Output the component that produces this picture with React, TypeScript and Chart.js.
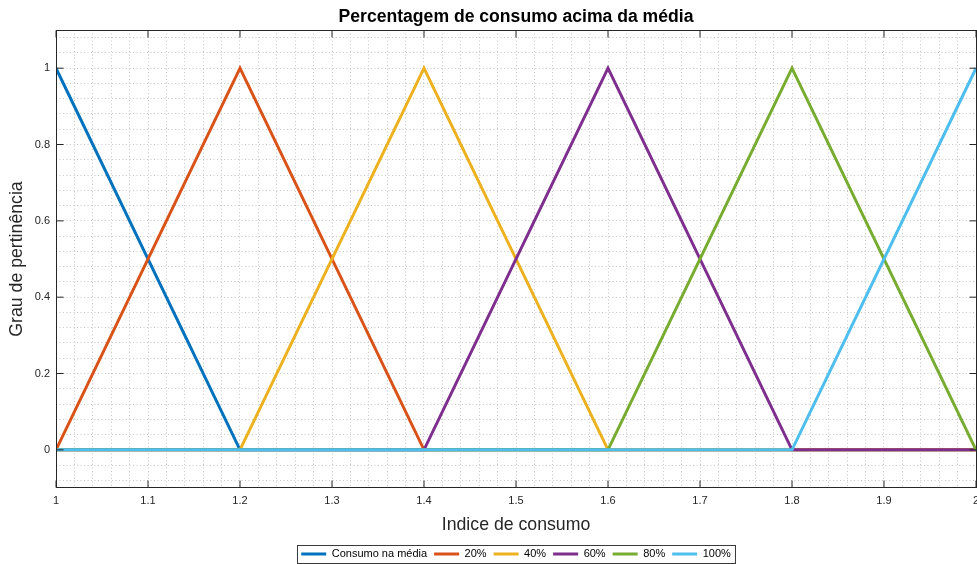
import { useEffect, useRef } from "react";
import { Chart, registerables } from "chart.js";

Chart.register(...registerables);

const chartTitle = "Percentagem de consumo acima da média";
const xAxisTitle = "Indice de consumo";
const yAxisTitle = "Grau de pertinência";

// x positions of the membership-function break points
const xPoints = [1, 1.2, 1.4, 1.6, 1.8, 2];

const seriesLabels = ["Consumo na média", "20%", "40%", "60%", "80%", "100%"];
const consumoNaMedia = [1, 0, 0, 0, 0, 0];
const pct20 = [0, 1, 0, 0, 0, 0];
const pct40 = [0, 0, 1, 0, 0, 0];
const pct60 = [0, 0, 0, 1, 0, 0];
const pct80 = [0, 0, 0, 0, 1, 0];
const pct100 = [0, 0, 0, 0, 0, 1];
const seriesValues = [consumoNaMedia, pct20, pct40, pct60, pct80, pct100];
const seriesColors = ["#0072BD", "#D95319", "#EDB120", "#7E2F8E", "#77AC30", "#4DBEEE"];

const xTickValues = [1, 1.1, 1.2, 1.3, 1.4, 1.5, 1.6, 1.7, 1.8, 1.9, 2];
const xTickLabels = ["1", "1.1", "1.2", "1.3", "1.4", "1.5", "1.6", "1.7", "1.8", "1.9", "2"];
const yTickValues = [0, 0.2, 0.4, 0.6, 0.8, 1];
const yTickLabels = ["0", "0.2", "0.4", "0.6", "0.8", "1"];

const xMin = 1;
const xMax = 2;
const yMin = -0.1;
const yMax = 1.1;
const xMinorStep = 0.02;
const yMinorStep = 0.04;

const FONT = "'Liberation Sans', Arial, Helvetica, sans-serif";
const AXIS_COLOR = "#262626";
const LEGEND_PADDING = 7;
const LEGEND_HEIGHT = 22.5;

function minorTicks(min: number, max: number, step: number) {
  const out: { value: number }[] = [];
  const start = Math.ceil(min / step - 1e-9);
  const end = Math.floor(max / step + 1e-9);
  for (let i = start; i <= end; i++) {
    out.push({ value: Math.round(i * step * 1e6) / 1e6 });
  }
  return out;
}

function labelFor(v: number, values: number[], labels: string[]) {
  for (let i = 0; i < values.length; i++) {
    if (Math.abs(values[i] - v) < 1e-6) return labels[i];
  }
  return "";
}

const framePlugin = {
  id: "matlabFrame",
  beforeLayout(chart: any) {
    const lg = chart.legend;
    if (lg && !lg.__patched) {
      const orig = lg.fit;
      lg.fit = function () {
        orig.call(this);
        this.height = LEGEND_HEIGHT;
      };
      lg.__patched = true;
    }
  },
  afterDatasetsDraw(chart: any) {
    const { ctx, chartArea } = chart;
    const xs = chart.scales.x;
    const ys = chart.scales.y;
    const L = Math.floor(chartArea.left) + 0.5;
    const R = Math.floor(chartArea.right) + 0.5;
    const T = Math.floor(chartArea.top) + 0.5;
    const B = Math.floor(chartArea.bottom) - 0.5;
    const tl = 7;
    ctx.save();
    ctx.strokeStyle = AXIS_COLOR;
    ctx.lineWidth = 1;
    ctx.beginPath();
    xTickValues.forEach((v) => {
      const px = xs.getPixelForValue(v);
      ctx.moveTo(px, B);
      ctx.lineTo(px, B - tl);
      ctx.moveTo(px, T);
      ctx.lineTo(px, T + tl);
    });
    yTickValues.forEach((v) => {
      const py = ys.getPixelForValue(v);
      ctx.moveTo(L, py);
      ctx.lineTo(L + tl, py);
      ctx.moveTo(R, py);
      ctx.lineTo(R - tl, py);
    });
    ctx.stroke();
    ctx.strokeRect(L, T, R - L, B - T);
    ctx.restore();
  },
  afterDraw(chart: any) {
    const lg = chart.legend;
    if (!lg || !lg.legendHitBoxes || !lg.legendHitBoxes.length) return;
    const hb = lg.legendHitBoxes;
    const first = hb[0];
    const last = hb[hb.length - 1];
    const x0 = Math.floor(first.left - 4) + 0.5;
    const x1 = Math.floor(last.left + last.width + 5) + 0.5;
    const y0 = Math.floor(first.top - 3.5) + 0.5;
    const y1 = Math.floor(first.top + first.height + 3.5) + 0.5;
    const { ctx } = chart;
    ctx.save();
    ctx.strokeStyle = "#3a3a3a";
    ctx.lineWidth = 1;
    ctx.strokeRect(x0, y0, x1 - x0, y1 - y0);
    ctx.restore();
  },
};

export default function App() {
  const canvasRef = useRef<HTMLCanvasElement | null>(null);

  useEffect(() => {
    if (!canvasRef.current) return;
    const n = seriesLabels.length;
    const datasets = seriesLabels.map((label, i) => ({
      label,
      data: xPoints.map((x, j) => ({ x, y: seriesValues[i][j] })),
      borderColor: seriesColors[i],
      backgroundColor: seriesColors[i],
      borderWidth: 3,
      pointRadius: 0,
      tension: 0,
      fill: false,
      order: n - 1 - i,
    }));

    const chart = new Chart(canvasRef.current, {
      type: "line",
      data: { datasets },
      plugins: [framePlugin],
      options: {
        responsive: true,
        maintainAspectRatio: false,
        animation: false,
        layout: { padding: { left: 0, right: 1, top: 0, bottom: 0 } },
        plugins: {
          title: {
            display: true,
            fullSize: false,
            text: chartTitle,
            color: "#000",
            font: { family: FONT, size: 17.6, weight: "bold" },
            padding: { top: 7, bottom: 1.9 },
          },
          legend: {
            display: true,
            position: "bottom",
            fullSize: false,
            labels: {
              boxWidth: 25,
              boxHeight: 3,
              padding: LEGEND_PADDING,
              color: "#000",
              font: { family: FONT, size: 11 },
              generateLabels: (c: any) =>
                c.data.datasets.map((ds: any, i: number) => ({
                  text: ds.label,
                  fillStyle: ds.borderColor,
                  strokeStyle: ds.borderColor,
                  lineWidth: 0,
                  hidden: false,
                  datasetIndex: i,
                  fontColor: "#000",
                })),
            },
          },
          tooltip: { enabled: false },
        },
        scales: {
          x: {
            type: "linear",
            min: xMin,
            max: xMax,
            afterBuildTicks: (axis: any) => {
              axis.ticks = minorTicks(xMin, xMax, xMinorStep);
            },
            afterFit: (axis: any) => {
              axis.height = 53.5;
              axis.paddingLeft = 0;
              axis.paddingRight = 0;
            },
            ticks: {
              autoSkip: false,
              maxRotation: 0,
              minRotation: 0,
              padding: 6,
              color: AXIS_COLOR,
              font: { family: FONT, size: 11 },
              callback: (v: any) => labelFor(Number(v), xTickValues, xTickLabels),
            },
            grid: { drawTicks: false, color: "#c6c6c6", lineWidth: 1 },
            border: { display: false, dash: [1, 2.5] },
            title: {
              display: true,
              text: xAxisTitle,
              color: AXIS_COLOR,
              font: { family: FONT, size: 17.7 },
              padding: { top: 0, bottom: 5.9 },
            },
          },
          y: {
            type: "linear",
            min: yMin,
            max: yMax,
            afterBuildTicks: (axis: any) => {
              axis.ticks = minorTicks(yMin, yMax, yMinorStep);
            },
            afterFit: (axis: any) => {
              axis.width = 56;
              axis.paddingTop = 0;
              axis.paddingBottom = 0;
            },
            ticks: {
              autoSkip: false,
              padding: 6,
              color: AXIS_COLOR,
              font: { family: FONT, size: 11 },
              callback: (v: any) => labelFor(Number(v), yTickValues, yTickLabels),
            },
            grid: { drawTicks: false, color: "#c6c6c6", lineWidth: 1 },
            border: { display: false, dash: [1, 2.5] },
            title: {
              display: true,
              text: yAxisTitle,
              color: AXIS_COLOR,
              font: { family: FONT, size: 17.7 },
              padding: { top: 6.4, bottom: 0 },
            },
          },
        },
      } as any,
    });

    return () => chart.destroy();
  }, []);

  return (
    <div
      style={{
        position: "fixed",
        left: 0,
        top: 0,
        width: 977,
        height: 564,
        background: "#fff",
      }}
    >
      <canvas ref={canvasRef} />
    </div>
  );
}
